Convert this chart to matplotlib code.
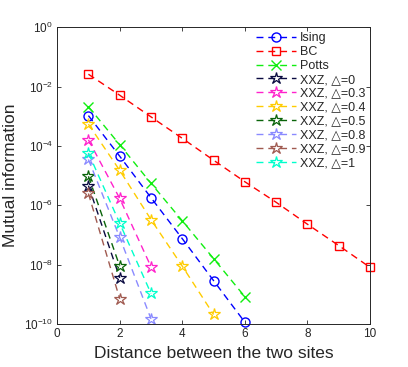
import numpy as np
import matplotlib
matplotlib.use('Agg')
import matplotlib.pyplot as plt
from matplotlib.ticker import FixedLocator, NullLocator

plt.rcParams['font.family'] = ['Liberation Sans', 'DejaVu Sans']

# values
dist_ising = [1, 2, 3, 4, 5, 6]
mi_ising = [1.05e-3, 4.5e-5, 1.8e-6, 7.5e-8, 2.9e-9, 1.15e-10]

dist_bc = [1, 2, 3, 4, 5, 6, 7, 8, 9, 10]
mi_bc = [2.6e-2, 5.1e-3, 9.5e-4, 1.8e-4, 3.3e-5, 6.2e-6, 1.26e-6, 2.3e-7, 4.4e-8, 8.1e-9]

dist_potts = [1, 2, 3, 4, 5, 6]
mi_potts = [2.1e-3, 1.1e-4, 5.5e-6, 3.0e-7, 1.6e-8, 8.3e-10]

xxz_labels = ['XXZ, \u25b3=0', 'XXZ, \u25b3=0.3', 'XXZ, \u25b3=0.4', 'XXZ, \u25b3=0.5',
              'XXZ, \u25b3=0.8', 'XXZ, \u25b3=0.9', 'XXZ, \u25b3=1']
xxz_dist = [[1, 2], [1, 2, 3], [1, 2, 3, 4, 5], [1, 2], [1, 2, 3], [1, 2], [1, 2, 3]]
xxz_mi = [[4.6e-6, 3.6e-9],
          [1.6e-4, 1.7e-6, 8.5e-9],
          [5.4e-4, 1.5e-5, 3.3e-7, 8.9e-9, 2.1e-10],
          [9.5e-6, 8.9e-9],
          [3.5e-5, 8.3e-8, 1.5e-10],
          [2.5e-6, 7.1e-10],
          [5.8e-5, 2.5e-7, 1.07e-9]]
xxz_colors = ['#0a0a40', '#ff22cc', '#ffcc00', '#0a640a', '#8a8aff', '#a05a50', '#00ffcc']

fig = plt.figure(figsize=(4.08, 3.67), dpi=100)
ax = fig.add_axes([0.140, 0.117, 0.767, 0.809])

ls = (0, (5, 3.5))
lw = 1.0
ax.plot(dist_ising, mi_ising, color='blue', ls=ls, lw=lw, marker='o', ms=6.5,
        mfc='none', mew=1.0, label='Ising', clip_on=False)
ax.plot(dist_bc, mi_bc, color='red', ls=ls, lw=lw, marker='s', ms=6,
        mfc='none', mew=1.0, label='BC', clip_on=False)
ax.plot(dist_potts, mi_potts, color='#11ee11', ls=ls, lw=lw, marker='x', ms=7,
        mew=1.0, label='Potts', clip_on=False)
for lab, xs, ys, c in zip(xxz_labels, xxz_dist, xxz_mi, xxz_colors):
    ax.plot(xs, ys, color=c, ls=ls, lw=lw, marker='*', ms=9, mfc='none',
            mew=0.9, label=lab, clip_on=False)

ax.set_yscale('log')
ax.set_xlim(0, 10)
ax.set_ylim(1e-10, 1e0)
ax.xaxis.set_major_locator(FixedLocator([0, 2, 4, 6, 8, 10]))
ax.yaxis.set_major_locator(FixedLocator([1e-10, 1e-8, 1e-6, 1e-4, 1e-2, 1e0]))
ax.yaxis.set_minor_locator(NullLocator())
ax.tick_params(direction='in', top=True, right=True, labelsize=8.5, length=3,
               width=0.6, colors='#262626', pad=3)
for sp in ax.spines.values():
    sp.set_linewidth(0.7)
    sp.set_color('#262626')

ax.set_xlabel('Distance between the two sites', fontsize=12.5, color='#262626')
ax.set_ylabel('Mutual information', fontsize=12.5, color='#262626')

ax.legend(loc='upper right', frameon=False, fontsize=9, handlelength=3.2,
          handletextpad=0.3, labelspacing=0.15, borderaxespad=0.1,
          borderpad=0.3, labelcolor='#262626')

fig.savefig('out.png', dpi=100)
